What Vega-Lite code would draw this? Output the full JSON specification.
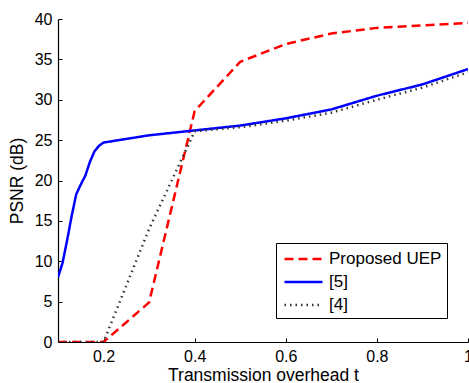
{
  "$schema": "https://vega.github.io/schema/vega-lite/v6.json",
  "autosize": {"type": "none"},
  "padding": {"left": 58, "top": 19, "right": 1, "bottom": 41},
  "width": 410,
  "height": 323,
  "background": "white",
  "config": {
    "view": {"stroke": null},
    "font": "Liberation Sans",
    "axis": {
      "grid": false,
      "domainColor": "black",
      "domainWidth": 1.2,
      "tickColor": "black",
      "tickSize": -4,
      "labelColor": "black",
      "titleColor": "black",
      "labelFontSize": 16,
      "titleFontSize": 17.5,
      "titleFontWeight": "normal",
      "labelFont": "Liberation Sans",
      "titleFont": "Liberation Sans"
    }
  },
  "data": {
    "values": [
      {"t": 0.1, "psnr": 0, "method": "Proposed UEP"},
      {"t": 0.2, "psnr": 0, "method": "Proposed UEP"},
      {"t": 0.3, "psnr": 4.9, "method": "Proposed UEP"},
      {"t": 0.4, "psnr": 28.6, "method": "Proposed UEP"},
      {"t": 0.5, "psnr": 34.7, "method": "Proposed UEP"},
      {"t": 0.6, "psnr": 36.9, "method": "Proposed UEP"},
      {"t": 0.7, "psnr": 38.2, "method": "Proposed UEP"},
      {"t": 0.8, "psnr": 38.9, "method": "Proposed UEP"},
      {"t": 0.9, "psnr": 39.2, "method": "Proposed UEP"},
      {"t": 1.0, "psnr": 39.5, "method": "Proposed UEP"},
      {"t": 0.1, "psnr": 8.0, "method": "[5]"},
      {"t": 0.11, "psnr": 9.8, "method": "[5]"},
      {"t": 0.12, "psnr": 12.6, "method": "[5]"},
      {"t": 0.13, "psnr": 15.6, "method": "[5]"},
      {"t": 0.14, "psnr": 18.3, "method": "[5]"},
      {"t": 0.15, "psnr": 19.5, "method": "[5]"},
      {"t": 0.16, "psnr": 20.6, "method": "[5]"},
      {"t": 0.17, "psnr": 22.3, "method": "[5]"},
      {"t": 0.18, "psnr": 23.6, "method": "[5]"},
      {"t": 0.19, "psnr": 24.3, "method": "[5]"},
      {"t": 0.2, "psnr": 24.7, "method": "[5]"},
      {"t": 0.3, "psnr": 25.6, "method": "[5]"},
      {"t": 0.4, "psnr": 26.2, "method": "[5]"},
      {"t": 0.5, "psnr": 26.8, "method": "[5]"},
      {"t": 0.6, "psnr": 27.7, "method": "[5]"},
      {"t": 0.7, "psnr": 28.8, "method": "[5]"},
      {"t": 0.8, "psnr": 30.5, "method": "[5]"},
      {"t": 0.9, "psnr": 31.9, "method": "[5]"},
      {"t": 1.0, "psnr": 33.8, "method": "[5]"},
      {"t": 0.1, "psnr": 0, "method": "[4]"},
      {"t": 0.2, "psnr": 0, "method": "[4]"},
      {"t": 0.3, "psnr": 14.0, "method": "[4]"},
      {"t": 0.4, "psnr": 26.1, "method": "[4]"},
      {"t": 0.5, "psnr": 26.6, "method": "[4]"},
      {"t": 0.6, "psnr": 27.4, "method": "[4]"},
      {"t": 0.7, "psnr": 28.4, "method": "[4]"},
      {"t": 0.8, "psnr": 30.0, "method": "[4]"},
      {"t": 0.9, "psnr": 31.5, "method": "[4]"},
      {"t": 1.0, "psnr": 33.4, "method": "[4]"}
    ]
  },
  "mark": {"type": "line", "clip": true},
  "encoding": {
    "x": {
      "field": "t",
      "type": "quantitative",
      "scale": {"domain": [0.1, 1], "nice": false, "zero": false},
      "axis": {
        "title": "Transmission overhead t",
        "values": [0.2, 0.4, 0.6, 0.8, 1],
        "format": "~g",
        "labelPadding": 10,
        "titlePadding": 2,
        "labelFlush": false
      }
    },
    "y": {
      "field": "psnr",
      "type": "quantitative",
      "scale": {"domain": [0, 40], "nice": false},
      "axis": {
        "title": "PSNR (dB)",
        "values": [0, 5, 10, 15, 20, 25, 30, 35, 40],
        "labelPadding": 10,
        "titlePadding": 8,
        "labelFlush": false
      }
    },
    "color": {
      "field": "method",
      "type": "nominal",
      "scale": {"domain": ["Proposed UEP", "[5]", "[4]"], "range": ["#ff0000", "#0000ff", "#333333"]},
      "legend": {
        "title": null,
        "orient": "none",
        "legendX": 218,
        "legendY": 224,
        "symbolType": "M-1,0H3",
        "symbolSize": 361,
        "labelFontSize": 17,
        "labelFont": "Liberation Sans",
        "labelColor": "black",
        "labelOffset": 24,
        "strokeColor": "black",
        "fillColor": "white",
        "padding": 5,
        "rowPadding": 4,
        "symbolOffset": 2
      }
    },
    "strokeDash": {
      "field": "method",
      "type": "nominal",
      "scale": {"domain": ["Proposed UEP", "[5]", "[4]"], "range": [[9, 5], [1, 0], [1.5, 4]]}
    },
    "strokeWidth": {
      "field": "method",
      "type": "nominal",
      "scale": {"domain": ["Proposed UEP", "[5]", "[4]"], "range": [2.5, 2.5, 1]}
    }
  }
}
